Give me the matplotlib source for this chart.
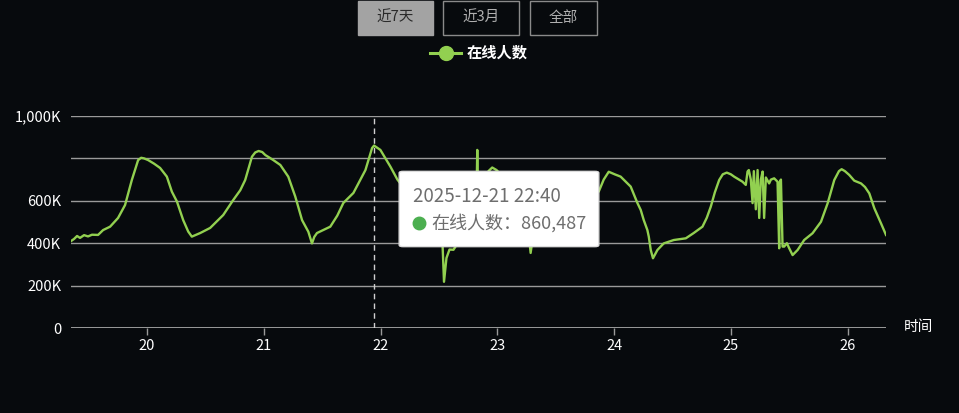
import matplotlib
matplotlib.use("Agg")
import matplotlib.pyplot as plt
from matplotlib.patches import Rectangle, FancyBboxPatch
from matplotlib.lines import Line2D

plt.rcParams['font.family'] = ['Noto Sans CJK SC', 'DejaVu Sans']

# ---- data (x = day of December 2025 as fractional day, y = online users in K) ----
times = [19.348, 19.374, 19.400, 19.425, 19.460, 19.494, 19.528, 19.580, 19.623, 19.683,
         19.751, 19.811, 19.869, 19.923, 19.949, 19.974, 20.009, 20.060, 20.111, 20.169,
         20.212, 20.255, 20.309, 20.352, 20.383, 20.420, 20.455, 20.540, 20.592, 20.652,
         20.738, 20.798, 20.840, 20.898, 20.926, 20.955, 20.986, 21.012, 21.081, 21.141,
         21.209, 21.269, 21.327, 21.381, 21.412, 21.432, 21.455, 21.509, 21.569, 21.629,
         21.681, 21.767, 21.827, 21.870, 21.927, 21.944, 21.998, 22.041, 22.084, 22.144,
         22.213, 22.298, 22.384, 22.444, 22.496, 22.530, 22.543, 22.564, 22.590, 22.624,
         22.684, 22.736, 22.787, 22.821, 22.828, 22.834, 22.873, 22.924, 22.956, 22.993,
         23.070, 23.156, 23.216, 23.267, 23.285, 23.302, 23.336, 23.388, 23.456, 23.542,
         23.628, 23.713, 23.799, 23.868, 23.911, 23.954, 24.005, 24.056, 24.142, 24.200,
         24.228, 24.254, 24.285, 24.297, 24.314, 24.333, 24.371, 24.425, 24.511, 24.614,
         24.682, 24.757, 24.794, 24.828, 24.863, 24.900, 24.931, 24.965, 25.000, 25.028,
         25.100, 25.128, 25.143, 25.154, 25.171, 25.186, 25.197, 25.214, 25.229, 25.243,
         25.257, 25.272, 25.285, 25.300, 25.328, 25.343, 25.371, 25.400, 25.414, 25.420,
         25.429, 25.443, 25.457, 25.480, 25.500, 25.529, 25.572, 25.628, 25.700, 25.772,
         25.829, 25.886, 25.926, 25.949, 25.977, 26.014, 26.057, 26.115, 26.149, 26.186,
         26.229, 26.286, 26.329]
online_k = [410, 420, 434, 425, 438, 432, 440, 439, 462, 478,
            519, 580, 698, 792, 803, 800, 792, 775, 755, 714,
            643, 597, 509, 455, 431, 440, 448, 472, 500, 533,
            604, 650, 698, 808, 828, 835, 830, 816, 792, 769,
            714, 620, 509, 454, 399, 430, 448, 462, 478, 530,
            590, 637, 700, 745, 849, 860.487, 840, 800, 761, 700,
            650, 560, 470, 420, 410, 400, 218, 330, 370, 369,
            420, 480, 560, 600, 840, 610, 680, 740, 757, 745,
            700, 600, 520, 450, 354, 420, 400, 395, 410, 450,
            520, 580, 630, 643, 700, 737, 725, 714, 667, 589,
            557, 509, 462, 431, 368, 329, 368, 399, 415, 423,
            448, 478, 520, 572, 640, 698, 725, 733, 725, 714,
            690, 675, 738, 745, 700, 589, 740, 560, 745, 519,
            700, 738, 519, 710, 682, 700, 706, 690, 376, 690,
            700, 384, 384, 400, 376, 344, 368, 415, 447, 501,
            588, 698, 740, 749, 740, 722, 695, 682, 665, 635,
            565, 494, 439]

day_ticks = [20, 21, 22, 23, 24, 25, 26]
day_labels = ["20", "21", "22", "23", "24", "25", "26"]
y_ticks = [0, 200, 400, 600, 800, 1000]
y_labels = ["0", "200K", "400K", "600K", "", "1,000K"]
series_name = "在线人数"
buttons = ["近7天", "近3月", "全部"]
tooltip_time = 21.944
tooltip_title = "2025-12-21 22:40"
tooltip_value = "860,487"

BG = "#070a0d"
LINE = "#92d050"
GRID = "#9a9a9a"

W, H = 959, 413
fig = plt.figure(figsize=(W / 100, H / 100), dpi=100, facecolor=BG)

def fx(x):
    return x / W

def fy(y):
    return 1 - y / H

ax = fig.add_axes([fx(71), fy(328), fx(886) - fx(71), fy(116) - fy(328)])
ax.set_facecolor(BG)
ax.plot(times, online_k, color=LINE, lw=1.7, solid_joinstyle="round", zorder=3)
ax.set_xlim(times[0], times[-1])
ax.set_ylim(0, 1000)
for s in ax.spines.values():
    s.set_visible(False)
for v in y_ticks[1:]:
    ax.axhline(v, color=GRID, lw=1.0, zorder=1)
ax.axhline(0, color=GRID, lw=1.4, zorder=1)
ax.set_yticks(y_ticks)
ax.set_yticklabels(y_labels, color="white", fontsize=10.5)
ax.tick_params(axis="y", length=0, pad=7)
ax.set_xticks(day_ticks)
ax.set_xticklabels(day_labels, color="white", fontsize=10.5)
ax.tick_params(axis="x", length=5, width=1, color=GRID, direction="out", pad=3)

# crosshair
ax.axvline(tooltip_time, color="#d0d0d0", lw=1, ls=(0, (4, 3)), zorder=2)

# axis name
fig.text(fx(904), fy(327), "时间", color="white", fontsize=10.5, va="center", ha="left")

# buttons
bx = [(358, 433), (443, 519), (530, 597)]
for i, (label, (x0, x1)) in enumerate(zip(buttons, bx)):
    if i == 0:
        r = Rectangle((fx(x0), fy(35)), fx(x1) - fx(x0), fy(1) - fy(35), transform=fig.transFigure,
                      facecolor="#a3a3a3", edgecolor="#a3a3a3", lw=1)
        tc = "#2a2a2a"
    else:
        r = Rectangle((fx(x0), fy(35)), fx(x1) - fx(x0), fy(1) - fy(35), transform=fig.transFigure,
                      facecolor="none", edgecolor="#8a8a8a", lw=1)
        tc = "#b0b0b0"
    fig.add_artist(r)
    fig.text(fx((x0 + x1) / 2), fy(18), label, color=tc, fontsize=10.5, ha="center", va="center")

# legend
fig.add_artist(Line2D([fx(430), fx(461)], [fy(53), fy(53)], transform=fig.transFigure,
                      color=LINE, lw=2.2))
fig.add_artist(Line2D([fx(445.5)], [fy(53)], transform=fig.transFigure, marker="o",
                      markersize=10, color=LINE, markeredgecolor=LINE))
fig.text(fx(467), fy(53), series_name, color="white", fontsize=11, ha="left", va="center",
         fontweight="bold")

# tooltip
tb = FancyBboxPatch((fx(403), fy(245)), fx(595) - fx(403), fy(173) - fy(245),
                    boxstyle="round,pad=0.004", transform=fig.transFigure,
                    facecolor="white", edgecolor="#dddddd", lw=1, zorder=10)
fig.add_artist(tb)
fig.text(fx(413), fy(196), tooltip_title, color="#6e6e6e", fontsize=13.5, ha="left",
         va="center", zorder=11)
fig.add_artist(Line2D([fx(419)], [fy(223)], transform=fig.transFigure, marker="o",
                      markersize=9, color="#4caf50", markeredgecolor="#4caf50", zorder=11))
fig.text(fx(431), fy(223), series_name + "：" + tooltip_value, color="#6e6e6e", fontsize=13,
         ha="left", va="center", zorder=11)

fig.savefig("out.png", dpi=100, facecolor=BG)
